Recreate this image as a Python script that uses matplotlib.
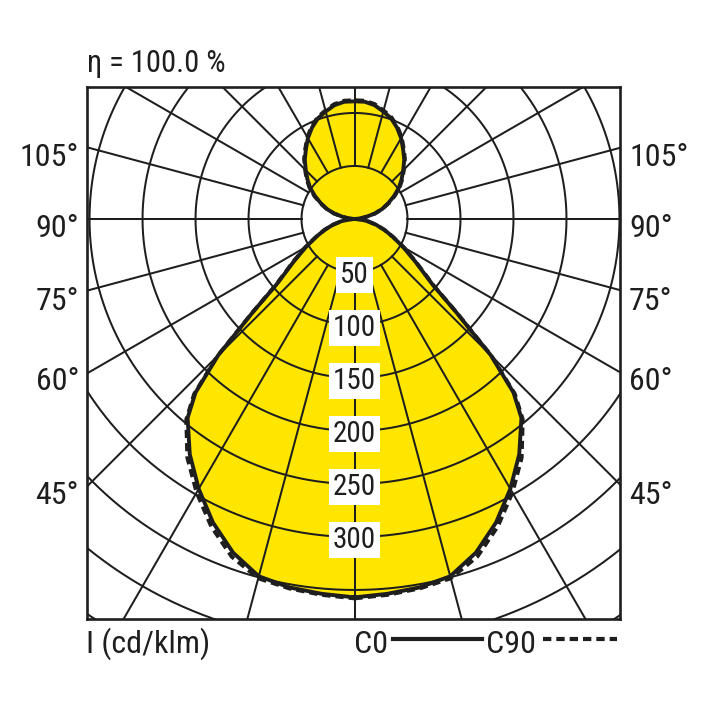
import numpy as np
import matplotlib
matplotlib.use("Agg")
import matplotlib.pyplot as plt
from matplotlib.lines import Line2D

gamma_down = [0, 5, 10, 15, 20, 25, 30, 35, 40, 42.5, 45, 47.5, 50, 55, 60, 65, 70, 75, 80, 85, 90]
c0_down = [357, 355, 353, 349, 335, 316, 294, 271, 245, 222, 182, 130, 96, 70, 53, 40, 30, 21, 13, 6, 0]
c90_down = [358, 356, 354, 351, 339, 320, 298, 275, 247, 224, 183, 131, 97, 71, 54, 40, 30, 21, 13, 6, 0]

gamma_up = [90, 95, 100, 105, 110, 115, 120, 125, 130, 135, 140, 145, 150, 155, 160, 165, 170, 175, 180]
c0_up = [0, 5, 11, 20, 28, 35, 43, 51, 58, 65, 73, 80, 88, 95, 101, 105, 109, 111, 111]
c90_up = [0, 5, 11, 20, 28, 36, 44, 52, 59, 66, 74, 81, 89, 96, 102, 106, 110, 112, 112]

ring_values = [50, 100, 150, 200, 250, 300, 350, 400, 450]
ring_labels = [50, 100, 150, 200, 250, 300]
angle_labels = ["105°", "90°", "75°", "60°", "45°"]
title = "η = 100.0 %"
unit_label = "I (cd/klm)"

YELLOW = "#ffe600"
INK = "#1e1e1e"
plt.rcParams["font.family"] = ["Roboto Condensed", "DejaVu Sans"]


def outline(gammas, values):
    """right half then mirrored left half -> closed curve in x/y"""
    g = np.deg2rad(np.array(gammas, dtype=float))
    v = np.array(values, dtype=float)
    xr, yr = v * np.sin(g), -v * np.cos(g)
    x = np.concatenate([xr, -xr[::-1]])
    y = np.concatenate([yr, yr[::-1]])
    return x, y


W = H = 708
fig = plt.figure(figsize=(7.08, 7.08), dpi=100)

def fx(px):
    return px / W

def fy(py):
    return 1 - py / H

ax = fig.add_axes([fx(87), fy(619), fx(620) - fx(87), fy(87) - fy(619)])
ax.set_xlim(-252.4, 250.5)
ax.set_ylim(-377.4, 124.5)
ax.set_xticks([])
ax.set_yticks([])
for sp in ax.spines.values():
    sp.set_linewidth(1.9)
    sp.set_color(INK)
    sp.set_zorder(10)

gam_all = gamma_down + gamma_up[1:]
val_c0 = c0_down + c0_up[1:]
val_c90 = c90_down + c90_up[1:]

x0, y0 = outline(gam_all, val_c0)
x9, y9 = outline(gam_all, val_c90)
ax.fill(x0, y0, color=YELLOW, lw=0, zorder=1)

# polar grid
t = np.linspace(0, 2 * np.pi, 721)
for r in ring_values:
    ax.plot(r * np.cos(t), r * np.sin(t), color=INK, lw=1.45, zorder=2)
for a in range(0, 360, 15):
    ra = np.deg2rad(a)
    ax.plot([50 * np.sin(ra), 700 * np.sin(ra)], [-50 * np.cos(ra), -700 * np.cos(ra)],
            color=INK, lw=1.45, zorder=2)

ax.plot(x9, y9, color=INK, lw=2.8, ls=(0, (2.1, 1.3)), zorder=4)
ax.plot(x0, y0, color=INK, lw=2.8, zorder=5)

for r in ring_labels:
    ax.text(0, -r - 10.5, str(r), ha="center", va="baseline", fontsize=21, color=INK,
            zorder=6, bbox=dict(boxstyle="square,pad=0.13", fc="white", ec="none"))

# angle labels on both sides
label_base = [166, 237, 310, 390, 504]
for lab, yb in zip(angle_labels, label_base):
    fig.text(fx(79), fy(yb), lab, ha="right", va="baseline", fontsize=23, color=INK)
    fig.text(fx(629), fy(yb), lab, ha="left", va="baseline", fontsize=23, color=INK)

fig.text(fx(87), fy(72), title, ha="left", va="baseline", fontsize=22, color=INK)
fig.text(fx(86), fy(653), unit_label, ha="left", va="baseline", fontsize=23, color=INK)

fig.text(fx(354), fy(653), "C0", ha="left", va="baseline", fontsize=23, color=INK)
fig.add_artist(Line2D([fx(393), fx(482)], [fy(639), fy(639)], color=INK, lw=3.0,
                      transform=fig.transFigure))
fig.text(fx(486), fy(653), "C90", ha="left", va="baseline", fontsize=23, color=INK)
fig.add_artist(Line2D([fx(543), fx(617)], [fy(639), fy(639)], color=INK, lw=3.0,
                      ls=(0, (2.0, 1.2)), transform=fig.transFigure))

fig.savefig("out.png", dpi=100, facecolor="white")
